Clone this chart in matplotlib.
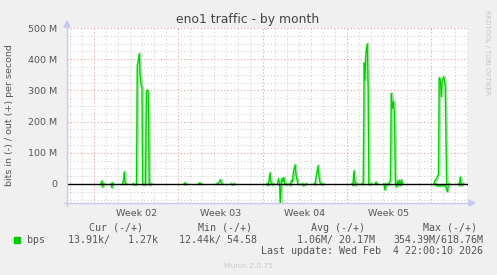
import numpy as np
import matplotlib.pyplot as plt

# dias desde o inicio da janela (33.3 dias) e trafego em Mbit/s
nan = np.nan
out_days = [2.82, 2.91, 2.95, 3.03, nan,
            3.65, 3.74, 3.78, 3.82, nan,
            4.61, 4.69, 4.76, 4.82, 4.90, nan,
            5.48, 5.56, 5.77, 5.84, 5.90, 6.01, 6.06, 6.15, 6.23, 6.29, 6.35, 6.52, 6.60, 6.66, 6.75, 6.83, 6.89, 6.98, nan,
            9.72, 9.80, 9.88, nan,
            10.92, 11.01, 11.13, nan,
            12.46, 12.62, 12.75, 12.87, nan,
            13.62, 13.70, 13.87, nan,
            16.61, 16.69, 16.78, 16.86, 16.94, 17.03, 17.11, nan,
            17.48, 17.57, 17.65, 17.72, 17.80, 17.88, 17.94, 18.02, 18.09, 18.15, 18.23, nan,
            18.48, 18.56, 18.65, 18.73, 18.81, 18.94, 19.02, 19.10, 19.19, nan,
            19.52, 19.60, 19.77, 19.85, nan,
            20.51, 20.60, 20.68, 20.76, 20.85, 20.93, 21.01, 21.10, 21.18, 21.26, nan,
            23.67, 23.75, 23.84, 23.92, 24.00, 24.09, nan,
            24.46, 24.54, 24.61, 24.69, 24.75, 24.83, 24.94, 25.02, 25.07, 25.12, 25.25, nan,
            25.58, 25.66, 25.75, nan,
            26.33, 26.41, 26.50, 26.58, 26.66, 26.79, 26.87, 26.94, 27.03, 27.12, 27.20, 27.28, 27.37, 27.45, 27.53, 27.62, 27.70, 27.78, 27.86, nan,
            30.48, 30.56, 30.69, 30.77, 30.86, 30.92, 31.02, 31.09, 31.17, 31.27, 31.33, 31.42, 31.50, 31.54, nan,
            32.52, 32.60, 32.67, 32.72, 32.81, 32.89]
out_mbps = [0, 9, -10, 0, nan,
            0, -12, 3, 0, nan,
            0, 10, 38, 5, 0, nan,
            0, -3, -2, 380, 390, 417, 360, 317, 310, 0, -3, -2, 295, 301, 296, 0, -4, 0, nan,
            0, 3, 0, nan,
            0, 3, 0, nan,
            0, 5, 13, 0, nan,
            0, -3, 0, nan,
            0, -5, 10, 35, 5, -3, 0, nan,
            0, 16, 2, -60, 5, 18, 8, 20, 0, -3, 0, nan,
            0, -5, 12, 8, 38, 61, 30, 15, 0, nan,
            0, -5, -3, 0, nan,
            0, -3, 20, 35, 58, 25, 5, 0, -3, 0, nan,
            0, -5, 42, 5, -5, 0, nan,
            0, -3, 5, 388, 333, 420, 449, 300, 0, -3, 0, nan,
            0, 5, 0, nan,
            0, -19, -5, 0, -3, 5, 10, 290, 243, 264, 230, 5, -10, 10, -5, 12, -5, 12, 0, nan,
            0, 10, 15, 25, 30, 340, 333, 280, 328, 343, 337, 312, 100, 0, nan,
            0, -5, 22, 5, -5, 0]
in_days = [30.61, 30.69, 31.46, 31.60, 31.69]
in_mbps = [0, -6, -6, -25, 0]

week_start = [2.24, 9.24, 16.24, 23.24, 30.24]
week_labels = ['Week 02', 'Week 03', 'Week 04', 'Week 05']
y_ticks = [0, 100, 200, 300, 400, 500]
y_tick_labels = ['0', '100 M', '200 M', '300 M', '400 M', '500 M']

headers = ['Cur (-/+)', 'Min (-/+)', 'Avg (-/+)', 'Max (-/+)']
values = ['13.91k/   1.27k', '12.44k/ 54.58', '1.06M/ 20.17M', '354.39M/618.76M']

W, H = 497, 275
bg = '#F0F0F0'
txt = '#555555'
green = '#00CC00'


def px(x, y):
    return x / W, 1 - y / H


fig = plt.figure(figsize=(W / 100, H / 100), dpi=100, facecolor=bg)
ax = fig.add_axes([67 / W, 1 - 203 / H, (468 - 67) / W, (203 - 28) / H])
ax.set_facecolor('white')
ax.set_xlim(0, 33.31)
ax.set_ylim(-61, 500)

# grade: dias (cinza) e semanas (vermelho)
for d in np.arange(week_start[0] - 2, 33.31, 1.0):
    is_week = any(abs(d - w) < 0.01 for w in week_start)
    ax.axvline(d, color='#E8A0A0' if is_week else '#D2D2D2', lw=0.8,
               ls=(0, (1, 2)), zorder=1)
for v in np.arange(-50, 501, 25):
    if v == 0:
        continue
    ax.axhline(v, color='#E8A0A0' if v % 100 == 0 else '#D2D2D2', lw=0.8,
               ls=(0, (1, 2)), zorder=1)

# linhas de trafego
ax.plot(np.array(out_days) + 0.05, out_mbps, color='#9AEA9A', lw=2.2, zorder=2,
        solid_joinstyle='round')
ax.plot(np.array(in_days) + 0.05, in_mbps, color='#9AEA9A', lw=2.2, zorder=2)
ax.plot(out_days, out_mbps, color=green, lw=0.8, zorder=3)
ax.plot(in_days, in_mbps, color=green, lw=0.8, zorder=3)
ax.axhline(0, color='black', lw=1.0, zorder=4)

for s in ax.spines.values():
    s.set_visible(False)
ax.set_yticks(y_ticks)
ax.set_yticklabels(y_tick_labels)
ax.set_xticks([w + 3.5 for w in week_start[:-1]])
ax.set_xticklabels(week_labels)
ax.tick_params(length=0, labelsize=6.8, colors=txt, pad=6)
ax.tick_params(axis='y', pad=7)
ax.tick_params(axis='x', pad=4)

# eixos azuis com setas
axis_c = '#C8C8F0'
fig.add_artist(plt.Line2D([67 / W, 67 / W], [1 - 206 / H, 1 - 24 / H], color=axis_c, lw=1))
fig.add_artist(plt.Line2D([64 / W, 470 / W], [1 - 203 / H, 1 - 203 / H], color=axis_c, lw=1))
fig.add_artist(plt.Polygon([px(64, 27), px(70, 27), px(67, 21)], closed=True,
                           color=axis_c, transform=fig.transFigure))
fig.add_artist(plt.Polygon([px(469, 200), px(469, 206), px(475, 203)], closed=True,
                           color=axis_c, transform=fig.transFigure))

fig.text(*px(248, 19), 'eno1 traffic - by month', ha='center', va='center',
         fontsize=8.9, color='#444444')
fig.text(*px(10, 115), 'bits in (-) / out (+) per second', ha='center',
         va='center', rotation=90, fontsize=6.8, color=txt)
fig.text(*px(487, 53), 'RRDTOOL / TOBI OETIKER', ha='center', va='center',
         rotation=-90, fontsize=4.8, color='#C4C4C4')

mono = 'DejaVu Sans Mono'
for h, xr in zip(headers, [143, 252, 365, 477]):
    fig.text(*px(xr, 228), h, ha='right', va='center', family=mono,
             fontsize=7.2, color=txt)
for v, xr in zip(values, [158, 257, 375, 483]):
    fig.text(*px(xr, 240), v, ha='right', va='center', family=mono,
             fontsize=7.2, color=txt)
fig.add_artist(plt.Rectangle(px(14, 243), 6 / W, 6 / H, color=green,
                             transform=fig.transFigure))
fig.text(*px(27, 240), 'bps', ha='left', va='center', family=mono,
         fontsize=7.2, color=txt)
fig.text(*px(483, 251), 'Last update: Wed Feb  4 22:00:10 2026', ha='right',
         va='center', family=mono, fontsize=7.2, color=txt)
fig.text(*px(248, 266), 'Munin 2.0.75', ha='center', va='center',
         fontsize=5.4, color='#C8C8C8')

fig.savefig('out.png', dpi=100, facecolor=bg)
